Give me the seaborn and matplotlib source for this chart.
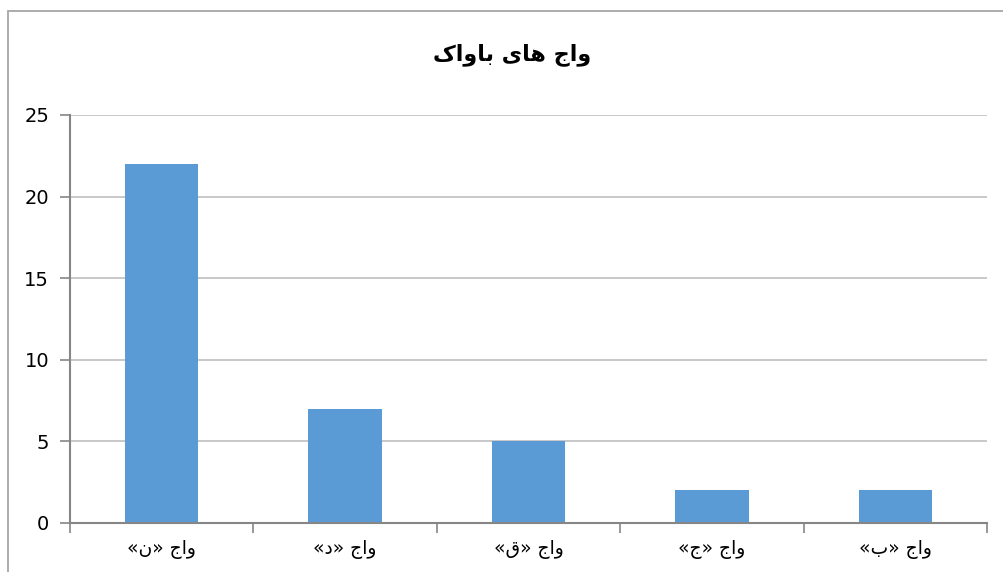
import matplotlib
matplotlib.use("Agg")
import matplotlib.pyplot as plt
import seaborn as sns
import numpy as np
from matplotlib.patches import Rectangle

# ---- data ----
categories = ["واج «ن»", "واج «د»", "واج «ق»", "واج «ج»", "واج «ب»"]
values = [22, 7, 5, 2, 2]
title = "واج های باواک"
y_ticks = [0, 5, 10, 15, 20, 25]

# ---- minimal Arabic/Persian shaping for display ----
FORMS = {  # isolated, final, initial, medial
    "ا": ("\uFE8D", "\uFE8E", None, None),
    "و": ("\uFEED", "\uFEEE", None, None),
    "د": ("\uFEA9", "\uFEAA", None, None),
    "ج": ("\uFE9D", "\uFE9E", "\uFE9F", "\uFEA0"),
    "ه": ("\uFEE9", "\uFEEA", "\uFEEB", "\uFEEC"),
    "ی": ("\uFBFC", "\uFBFD", "\uFBFE", "\uFBFF"),
    "ب": ("\uFE8F", "\uFE90", "\uFE91", "\uFE92"),
    "ک": ("\uFB8E", "\uFB8F", "\uFB90", "\uFB91"),
    "ن": ("\uFEE5", "\uFEE6", "\uFEE7", "\uFEE8"),
    "ق": ("\uFED5", "\uFED6", "\uFED7", "\uFED8"),
}
MIRROR = {"«": "»", "»": "«", "(": ")", ")": "("}


def shape(text):
    out = []
    n = len(text)
    for i, ch in enumerate(text):
        if ch not in FORMS:
            out.append(ch)
            continue
        prev = text[i - 1] if i > 0 else None
        nxt = text[i + 1] if i + 1 < n else None
        jp = prev in FORMS and FORMS[prev][2] is not None
        jn = FORMS[ch][2] is not None and nxt in FORMS
        iso, fin, ini, med = FORMS[ch]
        if jp and jn:
            out.append(med)
        elif jp:
            out.append(fin)
        elif jn:
            out.append(ini)
        else:
            out.append(iso)
    return "".join(MIRROR.get(c, c) for c in reversed(out))


labels_disp = [shape(c) for c in categories]

sns.set_theme(style="white")
plt.rcParams["font.family"] = ["DejaVu Sans"]

fig = plt.figure(figsize=(10.04, 5.72), dpi=100)
ax = fig.add_axes([70 / 1004, 1 - 523 / 572, (987 - 70) / 1004, (523 - 115) / 572])

sns.barplot(x=labels_disp, y=values, color="#5B9BD5", width=0.4, saturation=1,
            linewidth=0, edgecolor="none", ax=ax, zorder=3)

ax.set_xlim(-0.5, len(values) - 0.5)
ax.set_ylim(0, 25)
ax.set_yticks(y_ticks)
ax.set_yticklabels([str(t) for t in y_ticks], fontsize=14)
ax.grid(axis="y", color="#BFBFBF", linewidth=1.2, zorder=0)
ax.grid(axis="x", visible=False)

for s in ["top", "right"]:
    ax.spines[s].set_visible(False)
for s in ["left", "bottom"]:
    ax.spines[s].set_color("#868686")
    ax.spines[s].set_linewidth(1.5)
    ax.spines[s].set_zorder(4)

ax.tick_params(axis="y", which="major", direction="out", length=7, color="#868686",
               width=1.2, pad=8, labelcolor="#000000", left=True)
ax.tick_params(axis="x", which="major", length=0, pad=12, labelsize=13.5, labelcolor="#000000")
ax.set_xticks(np.arange(-0.5, len(values), 1.0), minor=True)
ax.tick_params(axis="x", which="minor", direction="out", length=7, color="#868686", width=1.2, bottom=True)
ax.set_xlabel("")
ax.set_ylabel("")

fig.text(512 / 1004, 1 - 55 / 572, shape(title), ha="center", va="center",
         fontsize=16, fontweight="bold", color="#000000")

fig.patches.append(Rectangle((8.5 / 1004, -0.1), 5, 1.1 - 10.5 / 572, transform=fig.transFigure,
                             fill=False, edgecolor="#A6A6A6", linewidth=1.3, zorder=0))

fig.savefig("out.png", dpi=100, facecolor="white")
